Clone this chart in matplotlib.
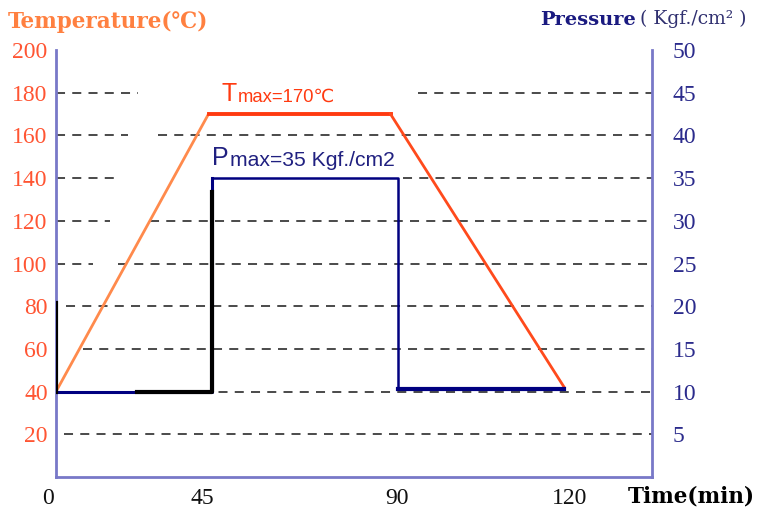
import numpy as np
import matplotlib
matplotlib.use("Agg")
import matplotlib.pyplot as plt
import matplotlib.transforms as mtransforms

# data (time in minutes)
time_temp = [0, 46.5, 88.5, 119]
temp = [40, 170, 170, 42]

time_pres = [0, 47.3, 47.3, 90.2, 90.2, 119]
pres = [10, 10, 35, 35, 10.3, 10.3]

# black parts of the pressure trace in the original drawing
black_time_a = [0, 0]
black_pres_a = [10, 20.4]
black_time_b = [25, 47.3, 47.3]
black_pres_b = [10, 10, 33.4]

temp_ticks = [20, 40, 60, 80, 100, 120, 140, 160, 180, 200]
pres_ticks = [5, 10, 15, 20, 25, 30, 35, 40, 45, 50]
time_ticks = [0, 45, 90, 120]

# the time axis of the original is not evenly spaced
knot_min = np.array([-20, 0, 45, 90, 120, 160])
knot_px = np.array([56 - 20 * 146 / 45, 56, 202, 397, 570, 570 + 40 * 173 / 30])


def fwd(x):
    return np.interp(x, knot_min, knot_px)


def inv(p):
    return np.interp(p, knot_px, knot_min)


axis_col = "#7878C8"
grid_col = "#3C3C3C"
serif = ["DejaVu Serif", "DejaVu Sans"]
tickfont = ["Liberation Serif", "DejaVu Serif"]
sans = ["Liberation Sans", "DejaVu Sans"]

fig = plt.figure(figsize=(7.57, 5.16), dpi=100)
ax = fig.add_axes([56 / 757, 39 / 516, 596 / 757, 427 / 516])
ax.set_xscale("function", functions=(fwd, inv))
ax.set_xlim(0, inv(652))
ax.set_ylim(0, 200)

# dashed grid lines, broken where the original had gaps (pixel x ranges)
grid_segments = {
    180: [(56, 138), (418, 652)],
    160: [(56, 128), (158, 652)],
    140: [(56, 120), (403, 652)],
    120: [(56, 110), (150, 652)],
    100: [(56, 93), (118, 652)],
    80: [(66, 652)],
    60: [(83, 652)],
    40: [(56, 652)],
    20: [(64, 652)],
}
for yv, segs in grid_segments.items():
    for a, b in segs:
        ax.axhline(yv, (a - 56) / 596, (b - 56) / 596, color=grid_col,
                   lw=1.3, ls=(0, (5, 4)), zorder=1)

# temperature
ax.plot(time_temp[0:2], temp[0:2], color="#FF8A4C", lw=2, zorder=3)
ax.plot(time_temp[1:3], temp[1:3], color="#FF3A10", lw=2.8, zorder=3)
ax.plot(time_temp[2:4], temp[2:4], color="#FF4A1C", lw=2, zorder=3)

ax2 = ax.twinx()
ax2.set_ylim(0, 50)
ax2.plot(time_pres[0:3], pres[0:3], color="#000080", lw=2.2, zorder=3)
ax2.plot(time_pres[2:5], pres[2:5], color="#000080", lw=1.8, zorder=3)
ax2.plot(time_pres[4:6], pres[4:6], color="#000080", lw=3, zorder=3)
ax2.plot(black_time_a, black_pres_a, color="black", lw=3, zorder=4)
ax2.plot(black_time_b, black_pres_b, color="black", lw=3, zorder=4)

for a in (ax, ax2):
    a.spines["top"].set_visible(False)
ax.spines["right"].set_visible(False)
ax2.spines["left"].set_visible(False)
ax2.spines["bottom"].set_visible(False)
ax.spines["left"].set_color(axis_col)
ax.spines["bottom"].set_color(axis_col)
ax2.spines["right"].set_color(axis_col)
for s in (ax.spines["left"], ax.spines["bottom"], ax2.spines["right"]):
    s.set_linewidth(2)

ax.set_yticks(temp_ticks)
ax.set_yticklabels([str(v) for v in temp_ticks], color="#FF5533",
                   family=tickfont, fontsize=17)
ax.tick_params(axis="y", length=0, pad=6)
ax.set_xticks(time_ticks)
ax.set_xticks([], minor=True)
ax.set_xticklabels([str(v) for v in time_ticks], color="#111111",
                   family=tickfont, fontsize=17)
ax.tick_params(axis="x", length=0, pad=8)
# the "0" label sits a little left of the axis corner in the original
lbl0 = ax.get_xticklabels()[0]
lbl0.set_transform(lbl0.get_transform() +
                   mtransforms.ScaledTranslation(-8 / 100, 0, fig.dpi_scale_trans))

ax2.set_yticks(pres_ticks)
ax2.set_yticklabels([str(v) for v in pres_ticks], color="#2B2B8C",
                    family=tickfont, fontsize=17)
ax2.tick_params(axis="y", length=0, pad=15)

# titles
fig.text(8 / 757, 1 - 22 / 516, "Temperature(℃)", color="#FF8040",
         family=serif, fontweight="bold", fontsize=15.5, va="center")
fig.text(540 / 757, 1 - 20 / 516, "Pressure", color="#1A1A80",
         family=serif, fontweight="bold", fontsize=14, va="center")
fig.text(640 / 757, 1 - 19 / 516, "( Kgf./cm² )", color="#303070",
         family=serif, fontsize=13.5, va="center")
fig.text(628 / 757, 1 - 497 / 516, "Time(min)", color="black",
         family=serif, fontweight="bold", fontsize=15.5, va="center")

# annotations for the max values
t1 = ax.text(49.5, 176, "T", color="#FF3A10", family=sans, fontsize=18,
             va="baseline", zorder=5)
ax.annotate("max=170℃", xy=(1, 0), xycoords=t1, xytext=(1, 0),
            textcoords="offset points", color="#FF3A10", family=sans,
            fontsize=13.3, va="bottom")
t2 = ax.text(47.3, 146, "P", color="#202080", family=sans, fontsize=18,
             va="baseline", zorder=5)
ax.annotate("max=35 Kgf./cm2", xy=(1, 0), xycoords=t2, xytext=(1, 0),
            textcoords="offset points", color="#202080", family=sans,
            fontsize=15.2, va="bottom")

fig.savefig("out.png", dpi=100)
